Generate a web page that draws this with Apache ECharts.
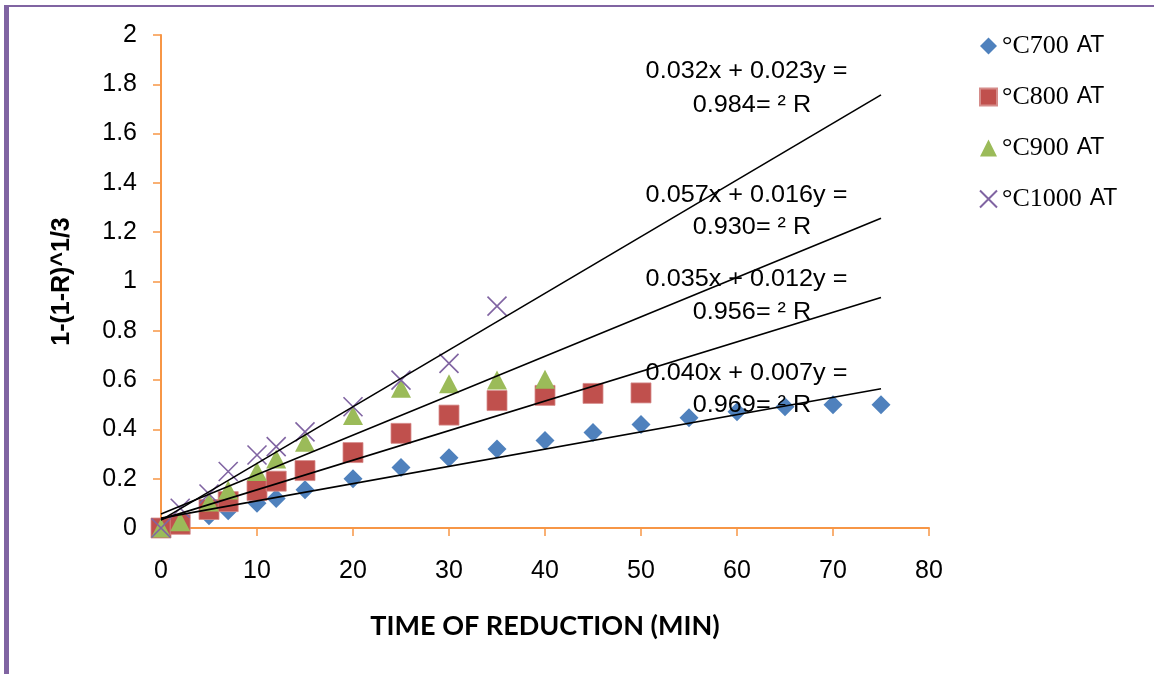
<!DOCTYPE html>
<html>
<head>
<meta charset="utf-8">
<script src="https://cdn.jsdelivr.net/npm/echarts@6/dist/echarts.min.js"></script>
<style>
  html, body { margin: 0; padding: 0; background: #ffffff; }
  #chart { width: 1154px; height: 674px; }
</style>
</head>
<body>
<div id="chart"></div>
<script>
// Reduction kinetics: 1-(1-R)^1/3 against reduction time, four temperatures
const seriesNames = ['°C700 AT', '°C800 AT', '°C900 AT', '°C1000 AT'];

const time700 = [0, 2, 5, 7, 10, 12, 15, 20, 25, 30, 35, 40, 45, 50, 55, 60, 65, 70, 75];
const val700  = [0, 0.02, 0.05, 0.07, 0.10, 0.12, 0.155, 0.20, 0.245, 0.285, 0.32, 0.355, 0.387, 0.42, 0.447, 0.472, 0.492, 0.50, 0.50];

const time800 = [0, 2, 5, 7, 10, 12, 15, 20, 25, 30, 35, 40, 45, 50];
const val800  = [0, 0.015, 0.075, 0.107, 0.152, 0.19, 0.233, 0.306, 0.384, 0.458, 0.517, 0.538, 0.546, 0.548];

const time900 = [0, 2, 5, 7, 10, 12, 15, 20, 25, 30, 35, 40];
const val900  = [0, 0.025, 0.105, 0.154, 0.229, 0.28, 0.348, 0.456, 0.567, 0.585, 0.60, 0.603];

const time1000 = [0, 2, 5, 7, 10, 12, 15, 20, 25, 30, 35];
const val1000  = [0, 0.08, 0.138, 0.229, 0.296, 0.33, 0.39, 0.492, 0.60, 0.668, 0.90];

// Linear fits y = slope * x + intercept (same order as seriesNames)
const fitSlope     = [0.007, 0.012, 0.016, 0.023];
const fitIntercept = [0.040, 0.035, 0.057, 0.032];
const fitR2        = [0.969, 0.956, 0.930, 0.984];
const fitEndX      = 75;

const xTickValues = [0, 10, 20, 30, 40, 50, 60, 70, 80];
const yTickValues = [0, 0.2, 0.4, 0.6, 0.8, 1, 1.2, 1.4, 1.6, 1.8, 2];

const colors = ['#4F81BD', '#C0504D', '#9BBB59', '#8064A2'];
const axisColor = '#F79646';
const crossPath = 'path://M0,0L10,10M10,0L0,10';

const pairs = (xs, ys) => xs.map((x, i) => [x, ys[i]]);
const times = [time700, time800, time900, time1000];
const values = [val700, val800, val900, val1000];

const markerStyles = [
  { symbol: 'diamond', symbolSize: [19, 19], itemStyle: { color: colors[0], opacity: 1 } },
  { symbol: 'rect', symbolSize: [20, 20], itemStyle: { color: colors[1], borderColor: '#D58C8A', borderWidth: 0.8, opacity: 1 } },
  { symbol: 'triangle', symbolSize: [20, 19], itemStyle: { color: colors[2], opacity: 1 } },
  { symbol: crossPath, symbolSize: [19, 19], itemStyle: { color: 'transparent', borderColor: colors[3], borderWidth: 1.6, opacity: 1 } }
];

const scatterSeries = seriesNames.map((name, i) => Object.assign({
  name: name,
  type: 'scatter',
  data: pairs(times[i], values[i]),
  z: 2
}, markerStyles[i]));

const fitSeries = fitSlope.map((m, i) => ({
  name: 'fit-' + i,
  type: 'line',
  data: [[0, fitIntercept[i]], [fitEndX, fitIntercept[i] + m * fitEndX]],
  showSymbol: false,
  symbol: 'none',
  lineStyle: { color: '#000000', width: 1.6 },
  silent: true,
  z: 3
}));

// Equation text blocks (two lines each) near the right end of each fit
const eqCenters = [[750, 373, 405], [750, 279, 312], [750, 195, 227], [750, 71, 105]];
const eqGraphics = [];
fitSlope.forEach((m, i) => {
  const line1 = fitIntercept[i].toFixed(3) + 'x + ' + m.toFixed(3) + 'y = ';
  const line2 = fitR2[i].toFixed(3) + '= \u00B2 R';
  const c = eqCenters[i];
  eqGraphics.push({
    type: 'text', x: c[0], y: c[1], scaleX: 1.05, z: 10,
    style: { text: line1, fill: '#000', font: '24px "Liberation Sans", Arial, sans-serif', align: 'center', verticalAlign: 'middle' }
  });
  eqGraphics.push({
    type: 'text', x: c[0] + 2, y: c[2], scaleX: 1.05, z: 10,
    style: { text: line2, fill: '#000', font: '24px "Liberation Sans", Arial, sans-serif', align: 'center', verticalAlign: 'middle' }
  });
});

const chart = echarts.init(document.getElementById('chart'), null, { renderer: 'canvas' });

chart.setOption({
  animation: false,
  backgroundColor: '#ffffff',
  grid: { left: 161, right: 225, top: 35, bottom: 146, containLabel: false },
  legend: {
    data: seriesNames,
    orient: 'vertical',
    left: 974,
    top: 28,
    itemWidth: 17,
    itemHeight: 17,
    itemGap: 25,
    selectedMode: false,
    formatter: function (name) {
      const parts = name.split(' ');
      return '{t|' + parts[0] + '}{a|' + parts[1] + '}';
    },
    textStyle: {
      color: '#000',
      rich: {
        t: { fontFamily: '"Liberation Serif", "Times New Roman", serif', fontSize: 26, color: '#000', lineHeight: 24 },
        a: { fontFamily: '"Liberation Sans", Arial, sans-serif', fontSize: 23, color: '#000', lineHeight: 24, padding: [0, 0, 0, 8] }
      }
    }
  },
  xAxis: {
    type: 'value',
    min: xTickValues[0],
    max: xTickValues[xTickValues.length - 1],
    interval: xTickValues[1] - xTickValues[0],
    name: 'TIME OF REDUCTION (MIN)',
    nameLocation: 'middle',
    nameGap: 85,
    nameTextStyle: { fontFamily: 'Lato, "Open Sans", sans-serif', fontWeight: 'bold', fontSize: 27, color: '#000' },
    axisLine: { show: true, onZero: false, lineStyle: { color: axisColor, width: 2 } },
    axisTick: { show: true, inside: false, length: 8, lineStyle: { color: axisColor, width: 1.5 } },
    axisLabel: { margin: 31, color: '#000', fontFamily: '"Liberation Sans", Arial, sans-serif', fontSize: 25 },
    splitLine: { show: false }
  },
  yAxis: {
    type: 'value',
    min: yTickValues[0],
    max: yTickValues[yTickValues.length - 1],
    interval: 0.2,
    name: '1-(1-R)^1/3',
    nameLocation: 'middle',
    nameGap: 86,
    nameTextStyle: { fontFamily: '"Liberation Sans", Arial, sans-serif', fontWeight: 'bold', fontSize: 25, color: '#000' },
    axisLine: { show: true, onZero: false, lineStyle: { color: axisColor, width: 2 } },
    axisTick: { show: true, inside: false, length: 8, lineStyle: { color: axisColor, width: 1.5 } },
    axisLabel: { margin: 24, color: '#000', fontFamily: '"Liberation Sans", Arial, sans-serif', fontSize: 25 },
    splitLine: { show: false }
  },
  series: scatterSeries.concat(fitSeries),
  graphic: [
    { type: 'rect', shape: { x: 4, y: 5, width: 1150, height: 2 }, style: { fill: '#8064A2' }, z: 20 },
    { type: 'rect', shape: { x: 4, y: 5, width: 5, height: 669 }, style: { fill: '#8064A2' }, z: 20 }
  ].concat(eqGraphics)
});
</script>
</body>
</html>
